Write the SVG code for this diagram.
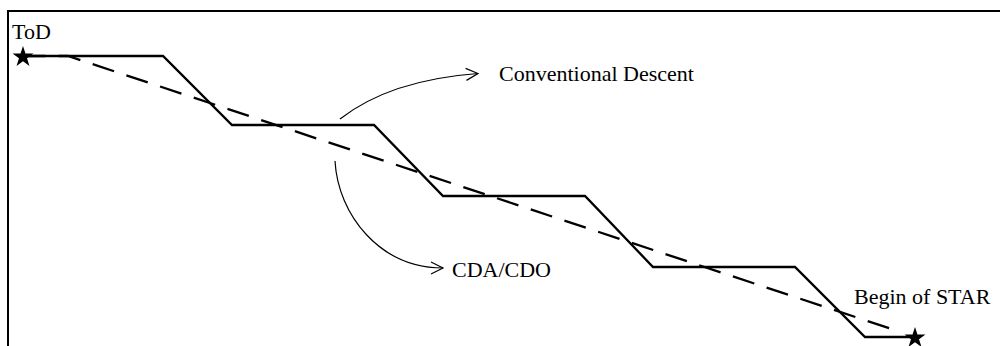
<svg xmlns="http://www.w3.org/2000/svg" width="1000" height="346" viewBox="0 0 1000 346">
<style>
.frame{fill:none;stroke:#000;stroke-width:2}
.profile{fill:none;stroke:#000;stroke-width:2.3;stroke-linejoin:miter}
.cda{fill:none;stroke:#000;stroke-width:2.3;stroke-dasharray:22.5 13}
.conn{fill:none;stroke:#000;stroke-width:1.2}
.lbl{font-family:"Liberation Serif","Times New Roman",serif;font-size:22px;fill:#000}
.star{fill:#000}
</style>
<defs>
<marker id="chev" markerUnits="userSpaceOnUse" markerWidth="16" markerHeight="16" refX="13" refY="6.5" orient="auto" viewBox="0 0 16 13">
<path d="M1,0.5 L13,6.5 L1,12.5" fill="none" stroke="#000" stroke-width="1.2"/>
</marker>
<path id="starshape" d="M0,-11 L2.47,-3.4 L10.46,-3.4 L4,1.3 L6.47,8.9 L0,4.2 L-6.47,8.9 L-4,1.3 L-10.46,-3.4 L-2.47,-3.4 Z"/>
</defs>
<g id="frame">
<polyline class="frame" points="8,346 8,11 1000,11"/>
</g>
<g id="conventional-profile">
<polyline class="profile" points="23,56 163,56 232,125 374,125 443,196 585,196 653,267 795,267 865,337 915,337"/>
</g>
<g id="cda-profile">
<polyline class="cda" points="23,56 68,56 890,328.5"/>
</g>
<g id="tod">
<use href="#starshape" class="star" x="23" y="57"/>
<text class="lbl" font-family="Liberation Serif, serif" x="12" y="39">ToD</text>
</g>
<g id="begin-star">
<use href="#starshape" class="star" x="915" y="338"/>
<text class="lbl" font-family="Liberation Serif, serif" x="854" y="304">Begin of STAR</text>
</g>
<g id="label-conventional">
<text class="lbl" font-family="Liberation Serif, serif" x="499" y="81">Conventional Descent</text>
</g>
<g id="label-cda">
<text class="lbl" font-family="Liberation Serif, serif" x="452" y="277">CDA/CDO</text>
</g>
<g id="connectors">
<path class="conn" d="M340,119 Q390,80 478,73.5" marker-end="url(#chev)"/>
<path class="conn" d="M335,161 C338,215 380,268 443,268" marker-end="url(#chev)"/>
</g>
</svg>
